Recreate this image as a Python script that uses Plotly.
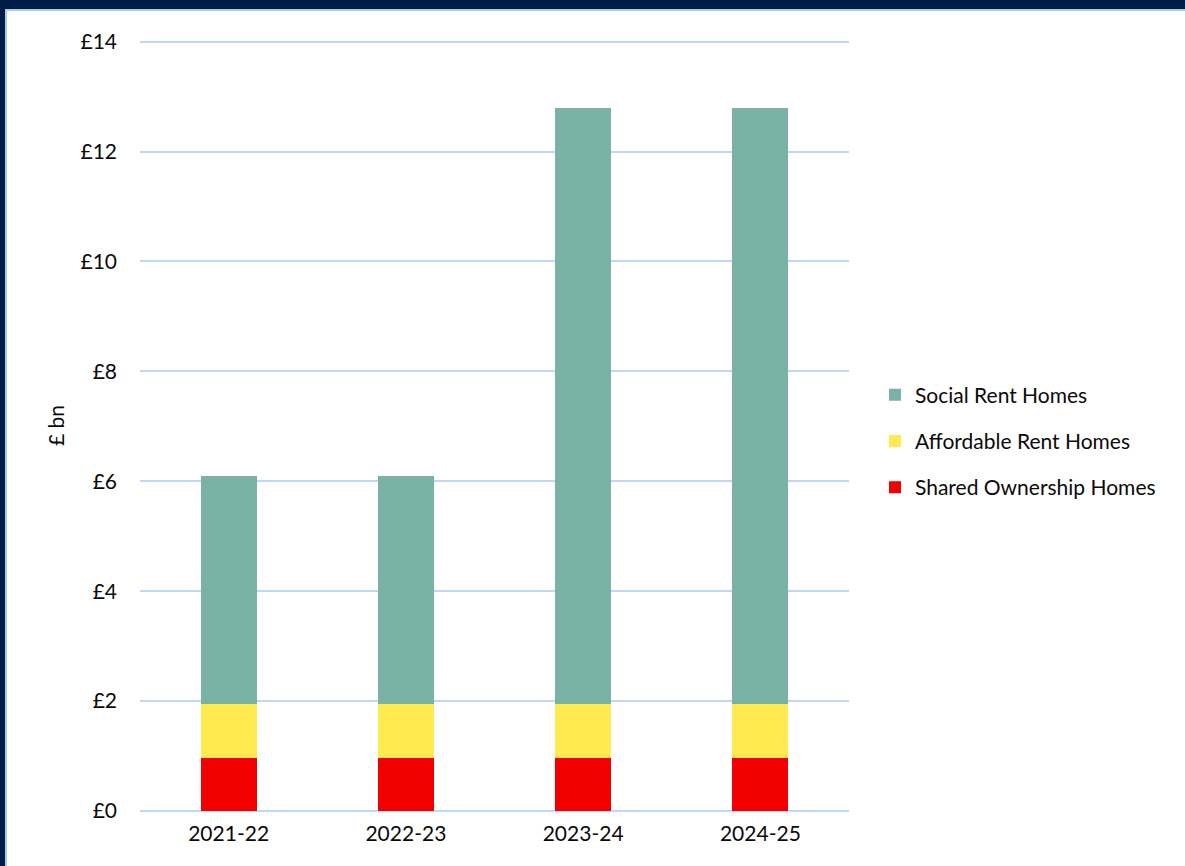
import plotly.graph_objects as go

years = ["2021-22", "2022-23", "2023-24", "2024-25"]
shared_ownership = [0.96, 0.96, 0.96, 0.96]
affordable_rent = [0.98, 0.98, 0.98, 0.98]
social_rent = [4.15, 4.15, 10.86, 10.86]
y_ticks = [0, 2, 4, 6, 8, 10, 12, 14]
y_tick_labels = ["£0", "£2", "£4", "£6", "£8", "£10", "£12", "£14"]

W, H = 1185, 866
ML, MR, MT, MB = 140, 336, 40, 55
pw = W - ML - MR
ph = H - MT - MB

FONT = "Lato, Open Sans, sans-serif"
FS = 21

fig = go.Figure()
series = [
    ("Shared Ownership Homes", shared_ownership, "#F20000", 3),
    ("Affordable Rent Homes", affordable_rent, "#FFEB50", 2),
    ("Social Rent Homes", social_rent, "#7AB2A8", 1),
]
for name, vals, col, rank in series:
    fig.add_trace(go.Bar(
        x=years, y=vals, name=name, legendgroup=name, legendrank=rank,
        marker=dict(color=col, line=dict(width=0)),
    ))

def px_x(p):
    return (p - ML) / pw

def px_y(p):
    return (H - MB - p) / ph

fig.update_layout(
    width=W, height=H,
    margin=dict(l=ML, r=MR, t=MT, b=MB, autoexpand=False),
    barmode="stack",
    bargap=0.684,
    paper_bgcolor="#001D46",
    plot_bgcolor="white",
    font=dict(family=FONT, size=FS, color="#0A0A0A"),
    showlegend=True,
    legend=dict(
        x=px_x(875), xanchor="left",
        y=px_y(441), yanchor="middle",
        traceorder="grouped",
        tracegroupgap=16,
        font=dict(family=FONT, size=FS, color="#0A0A0A"),
        bgcolor="rgba(0,0,0,0)",
    ),
    xaxis=dict(
        showgrid=False, zeroline=False, showline=False,
        ticks="", tickfont=dict(size=FS), ticklabelstandoff=8,
    ),
    yaxis=dict(
        range=[0, 14.03],
        tickvals=y_ticks, ticktext=y_tick_labels,
        showgrid=True, gridcolor="#BDD9F5", gridwidth=2,
        zeroline=True, zerolinecolor="#BDD9F5", zerolinewidth=2,
        showline=False, ticks="",
        tickfont=dict(size=FS),
        ticklabelstandoff=22,
        title=dict(text="£ bn", font=dict(size=FS), standoff=10),
    ),
    shapes=[
        dict(type="rect", xref="paper", yref="paper",
             x0=px_x(6), x1=px_x(W + 20), y0=px_y(H + 20), y1=px_y(10),
             fillcolor="white", line=dict(color="#A9CDF2", width=2),
             layer="below"),
    ],
)

fig.write_html(
    "out.html",
    config={"displayModeBar": False},
    post_script="document.body.style.margin='0';document.body.style.overflow='hidden';",
)
